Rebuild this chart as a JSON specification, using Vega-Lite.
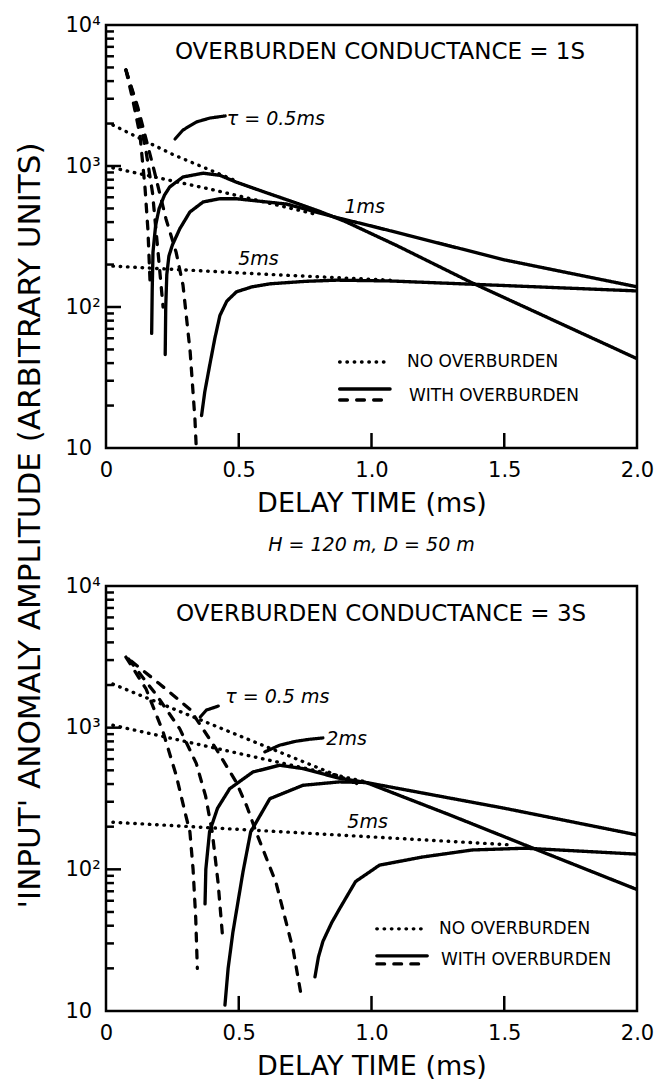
{
  "$schema": "https://vega.github.io/schema/vega-lite/v6.json",
  "background": "white",
  "autosize": {"type": "pad"},
  "padding": {"left": 12, "top": 12, "right": 10, "bottom": 5},
  "spacing": 138,
  "bounds": "flush",
  "config": {
    "view": {"stroke": "black", "strokeWidth": 2.5},
    "font": "DejaVu Sans",
    "axis": {"labelColor": "black", "titleColor": "black", "ticks": false, "domain": false, "grid": false}
  },
  "datasets": {
    "yticks": [
      {"value": 20, "tick": "minor"}, {"value": 30, "tick": "minor"}, {"value": 40, "tick": "minor"}, {"value": 50, "tick": "minor"},
      {"value": 60, "tick": "minor"}, {"value": 70, "tick": "minor"}, {"value": 80, "tick": "minor"}, {"value": 90, "tick": "minor"},
      {"value": 100, "tick": "major"},
      {"value": 200, "tick": "minor"}, {"value": 300, "tick": "minor"}, {"value": 400, "tick": "minor"}, {"value": 500, "tick": "minor"},
      {"value": 600, "tick": "minor"}, {"value": 700, "tick": "minor"}, {"value": 800, "tick": "minor"}, {"value": 900, "tick": "minor"},
      {"value": 1000, "tick": "major"},
      {"value": 2000, "tick": "minor"}, {"value": 3000, "tick": "minor"}, {"value": 4000, "tick": "minor"}, {"value": 5000, "tick": "minor"},
      {"value": 6000, "tick": "minor"}, {"value": 7000, "tick": "minor"}, {"value": 8000, "tick": "minor"}, {"value": 9000, "tick": "minor"}
    ],
    "xticks": [{"value": 0.5}, {"value": 1.0}, {"value": 1.5}],
    "curves_top": [
      {"series": "dot0.5", "kind": "no overburden", "t": 0.026, "amp": 1950},
      {"series": "dot0.5", "kind": "no overburden", "t": 0.25, "amp": 1210},
      {"series": "dot0.5", "kind": "no overburden", "t": 0.5, "amp": 770},
      {"series": "dot1", "kind": "no overburden", "t": 0.026, "amp": 970},
      {"series": "dot1", "kind": "no overburden", "t": 0.4, "amp": 680},
      {"series": "dot1", "kind": "no overburden", "t": 0.8, "amp": 450},
      {"series": "dot5", "kind": "no overburden", "t": 0.026, "amp": 195},
      {"series": "dot5", "kind": "no overburden", "t": 0.62, "amp": 170},
      {"series": "dot5", "kind": "no overburden", "t": 1.07, "amp": 155},
      {"series": "neg0.5", "kind": "with overburden (-)", "t": 0.075, "amp": 4800},
      {"series": "neg0.5", "kind": "with overburden (-)", "t": 0.1, "amp": 3000},
      {"series": "neg0.5", "kind": "with overburden (-)", "t": 0.128, "amp": 1660},
      {"series": "neg0.5", "kind": "with overburden (-)", "t": 0.147, "amp": 700},
      {"series": "neg0.5", "kind": "with overburden (-)", "t": 0.158, "amp": 350},
      {"series": "neg0.5", "kind": "with overburden (-)", "t": 0.166, "amp": 150},
      {"series": "neg1", "kind": "with overburden (-)", "t": 0.075, "amp": 4800},
      {"series": "neg1", "kind": "with overburden (-)", "t": 0.11, "amp": 2900},
      {"series": "neg1", "kind": "with overburden (-)", "t": 0.15, "amp": 1300},
      {"series": "neg1", "kind": "with overburden (-)", "t": 0.175, "amp": 650},
      {"series": "neg1", "kind": "with overburden (-)", "t": 0.196, "amp": 245},
      {"series": "neg1", "kind": "with overburden (-)", "t": 0.215, "amp": 100},
      {"series": "neg5", "kind": "with overburden (-)", "t": 0.075, "amp": 4800},
      {"series": "neg5", "kind": "with overburden (-)", "t": 0.12, "amp": 2600},
      {"series": "neg5", "kind": "with overburden (-)", "t": 0.18, "amp": 950},
      {"series": "neg5", "kind": "with overburden (-)", "t": 0.226, "amp": 421},
      {"series": "neg5", "kind": "with overburden (-)", "t": 0.264, "amp": 245},
      {"series": "neg5", "kind": "with overburden (-)", "t": 0.29, "amp": 143},
      {"series": "neg5", "kind": "with overburden (-)", "t": 0.317, "amp": 48},
      {"series": "neg5", "kind": "with overburden (-)", "t": 0.335, "amp": 16},
      {"series": "neg5", "kind": "with overburden (-)", "t": 0.34, "amp": 10},
      {"series": "pos0.5", "kind": "with overburden (+)", "t": 0.172, "amp": 65},
      {"series": "pos0.5", "kind": "with overburden (+)", "t": 0.174, "amp": 130},
      {"series": "pos0.5", "kind": "with overburden (+)", "t": 0.177, "amp": 245},
      {"series": "pos0.5", "kind": "with overburden (+)", "t": 0.187, "amp": 380},
      {"series": "pos0.5", "kind": "with overburden (+)", "t": 0.2, "amp": 498},
      {"series": "pos0.5", "kind": "with overburden (+)", "t": 0.22, "amp": 620},
      {"series": "pos0.5", "kind": "with overburden (+)", "t": 0.24, "amp": 710},
      {"series": "pos0.5", "kind": "with overburden (+)", "t": 0.29, "amp": 836},
      {"series": "pos0.5", "kind": "with overburden (+)", "t": 0.366, "amp": 889},
      {"series": "pos0.5", "kind": "with overburden (+)", "t": 0.429, "amp": 859},
      {"series": "pos0.5", "kind": "with overburden (+)", "t": 0.49, "amp": 769},
      {"series": "pos0.5", "kind": "with overburden (+)", "t": 0.6, "amp": 650},
      {"series": "pos0.5", "kind": "with overburden (+)", "t": 0.7, "amp": 560},
      {"series": "pos0.5", "kind": "with overburden (+)", "t": 0.8, "amp": 480},
      {"series": "pos0.5", "kind": "with overburden (+)", "t": 0.9, "amp": 405},
      {"series": "pos0.5", "kind": "with overburden (+)", "t": 1.1, "amp": 270},
      {"series": "pos0.5", "kind": "with overburden (+)", "t": 1.38, "amp": 148},
      {"series": "pos0.5", "kind": "with overburden (+)", "t": 2.0, "amp": 43},
      {"series": "pos1", "kind": "with overburden (+)", "t": 0.223, "amp": 46},
      {"series": "pos1", "kind": "with overburden (+)", "t": 0.225, "amp": 100},
      {"series": "pos1", "kind": "with overburden (+)", "t": 0.229, "amp": 170},
      {"series": "pos1", "kind": "with overburden (+)", "t": 0.237, "amp": 230},
      {"series": "pos1", "kind": "with overburden (+)", "t": 0.25, "amp": 275},
      {"series": "pos1", "kind": "with overburden (+)", "t": 0.278, "amp": 359},
      {"series": "pos1", "kind": "with overburden (+)", "t": 0.316, "amp": 472},
      {"series": "pos1", "kind": "with overburden (+)", "t": 0.366, "amp": 556},
      {"series": "pos1", "kind": "with overburden (+)", "t": 0.429, "amp": 586},
      {"series": "pos1", "kind": "with overburden (+)", "t": 0.49, "amp": 586},
      {"series": "pos1", "kind": "with overburden (+)", "t": 0.68, "amp": 537},
      {"series": "pos1", "kind": "with overburden (+)", "t": 0.87, "amp": 430},
      {"series": "pos1", "kind": "with overburden (+)", "t": 1.0, "amp": 375},
      {"series": "pos1", "kind": "with overburden (+)", "t": 1.5, "amp": 216},
      {"series": "pos1", "kind": "with overburden (+)", "t": 2.0, "amp": 139},
      {"series": "pos5", "kind": "with overburden (+)", "t": 0.36, "amp": 17},
      {"series": "pos5", "kind": "with overburden (+)", "t": 0.372, "amp": 25},
      {"series": "pos5", "kind": "with overburden (+)", "t": 0.391, "amp": 39},
      {"series": "pos5", "kind": "with overburden (+)", "t": 0.41, "amp": 60},
      {"series": "pos5", "kind": "with overburden (+)", "t": 0.429, "amp": 87},
      {"series": "pos5", "kind": "with overburden (+)", "t": 0.455, "amp": 110},
      {"series": "pos5", "kind": "with overburden (+)", "t": 0.491, "amp": 128},
      {"series": "pos5", "kind": "with overburden (+)", "t": 0.55, "amp": 139},
      {"series": "pos5", "kind": "with overburden (+)", "t": 0.617, "amp": 146},
      {"series": "pos5", "kind": "with overburden (+)", "t": 0.75, "amp": 152},
      {"series": "pos5", "kind": "with overburden (+)", "t": 0.869, "amp": 155},
      {"series": "pos5", "kind": "with overburden (+)", "t": 1.07, "amp": 153},
      {"series": "pos5", "kind": "with overburden (+)", "t": 1.5, "amp": 142},
      {"series": "pos5", "kind": "with overburden (+)", "t": 2.0, "amp": 130},
      {"series": "key_dot", "kind": "no overburden", "t": 0.88, "amp": 40.7},
      {"series": "key_dot", "kind": "no overburden", "t": 1.07, "amp": 40.7},
      {"series": "key_solid", "kind": "with overburden (+)", "t": 0.88, "amp": 26.2},
      {"series": "key_solid", "kind": "with overburden (+)", "t": 1.07, "amp": 26.2},
      {"series": "key_dash", "kind": "with overburden (-)", "t": 0.88, "amp": 21.9},
      {"series": "key_dash", "kind": "with overburden (-)", "t": 1.07, "amp": 21.9},
      {"series": "leader_tau", "kind": "leader", "t": 0.26, "amp": 1553},
      {"series": "leader_tau", "kind": "leader", "t": 0.29, "amp": 1799},
      {"series": "leader_tau", "kind": "leader", "t": 0.34, "amp": 2051},
      {"series": "leader_tau", "kind": "leader", "t": 0.392, "amp": 2189},
      {"series": "leader_tau", "kind": "leader", "t": 0.449, "amp": 2265}
    ],
    "curves_bottom": [
      {"series": "dot0.5", "kind": "no overburden", "t": 0.026, "amp": 2030},
      {"series": "dot0.5", "kind": "no overburden", "t": 0.5, "amp": 880},
      {"series": "dot0.5", "kind": "no overburden", "t": 0.95, "amp": 400},
      {"series": "dot1", "kind": "no overburden", "t": 0.026, "amp": 1040},
      {"series": "dot1", "kind": "no overburden", "t": 0.5, "amp": 658},
      {"series": "dot1", "kind": "no overburden", "t": 0.98, "amp": 414},
      {"series": "dot5", "kind": "no overburden", "t": 0.026, "amp": 215},
      {"series": "dot5", "kind": "no overburden", "t": 0.8, "amp": 178},
      {"series": "dot5", "kind": "no overburden", "t": 1.52, "amp": 149},
      {"series": "neg0.5", "kind": "with overburden (-)", "t": 0.075, "amp": 3150},
      {"series": "neg0.5", "kind": "with overburden (-)", "t": 0.151, "amp": 1875},
      {"series": "neg0.5", "kind": "with overburden (-)", "t": 0.215, "amp": 934},
      {"series": "neg0.5", "kind": "with overburden (-)", "t": 0.264, "amp": 464},
      {"series": "neg0.5", "kind": "with overburden (-)", "t": 0.3, "amp": 242},
      {"series": "neg0.5", "kind": "with overburden (-)", "t": 0.316, "amp": 184},
      {"series": "neg0.5", "kind": "with overburden (-)", "t": 0.328, "amp": 100},
      {"series": "neg0.5", "kind": "with overburden (-)", "t": 0.338, "amp": 45},
      {"series": "neg0.5", "kind": "with overburden (-)", "t": 0.344, "amp": 20},
      {"series": "neg1", "kind": "with overburden (-)", "t": 0.085, "amp": 3050},
      {"series": "neg1", "kind": "with overburden (-)", "t": 0.19, "amp": 1700},
      {"series": "neg1", "kind": "with overburden (-)", "t": 0.278, "amp": 980},
      {"series": "neg1", "kind": "with overburden (-)", "t": 0.34, "amp": 560},
      {"series": "neg1", "kind": "with overburden (-)", "t": 0.375, "amp": 330},
      {"series": "neg1", "kind": "with overburden (-)", "t": 0.4, "amp": 184},
      {"series": "neg1", "kind": "with overburden (-)", "t": 0.422, "amp": 81},
      {"series": "neg1", "kind": "with overburden (-)", "t": 0.44, "amp": 32},
      {"series": "neg5", "kind": "with overburden (-)", "t": 0.095, "amp": 2950},
      {"series": "neg5", "kind": "with overburden (-)", "t": 0.2, "amp": 2050},
      {"series": "neg5", "kind": "with overburden (-)", "t": 0.316, "amp": 1350},
      {"series": "neg5", "kind": "with overburden (-)", "t": 0.415, "amp": 707},
      {"series": "neg5", "kind": "with overburden (-)", "t": 0.49, "amp": 414},
      {"series": "neg5", "kind": "with overburden (-)", "t": 0.53, "amp": 280},
      {"series": "neg5", "kind": "with overburden (-)", "t": 0.565, "amp": 184},
      {"series": "neg5", "kind": "with overburden (-)", "t": 0.64, "amp": 81},
      {"series": "neg5", "kind": "with overburden (-)", "t": 0.705, "amp": 27},
      {"series": "neg5", "kind": "with overburden (-)", "t": 0.736, "amp": 12.6},
      {"series": "pos0.5", "kind": "with overburden (+)", "t": 0.373, "amp": 57},
      {"series": "pos0.5", "kind": "with overburden (+)", "t": 0.376, "amp": 100},
      {"series": "pos0.5", "kind": "with overburden (+)", "t": 0.39, "amp": 184},
      {"series": "pos0.5", "kind": "with overburden (+)", "t": 0.42, "amp": 270},
      {"series": "pos0.5", "kind": "with overburden (+)", "t": 0.466, "amp": 371},
      {"series": "pos0.5", "kind": "with overburden (+)", "t": 0.553, "amp": 486},
      {"series": "pos0.5", "kind": "with overburden (+)", "t": 0.654, "amp": 543},
      {"series": "pos0.5", "kind": "with overburden (+)", "t": 0.742, "amp": 514},
      {"series": "pos0.5", "kind": "with overburden (+)", "t": 0.878, "amp": 440},
      {"series": "pos0.5", "kind": "with overburden (+)", "t": 0.98, "amp": 410},
      {"series": "pos0.5", "kind": "with overburden (+)", "t": 1.3, "amp": 240},
      {"series": "pos0.5", "kind": "with overburden (+)", "t": 1.6, "amp": 143},
      {"series": "pos0.5", "kind": "with overburden (+)", "t": 2.0, "amp": 72},
      {"series": "pos1", "kind": "with overburden (+)", "t": 0.448, "amp": 11},
      {"series": "pos1", "kind": "with overburden (+)", "t": 0.46, "amp": 20},
      {"series": "pos1", "kind": "with overburden (+)", "t": 0.478, "amp": 36},
      {"series": "pos1", "kind": "with overburden (+)", "t": 0.516, "amp": 96},
      {"series": "pos1", "kind": "with overburden (+)", "t": 0.545, "amp": 184},
      {"series": "pos1", "kind": "with overburden (+)", "t": 0.617, "amp": 315},
      {"series": "pos1", "kind": "with overburden (+)", "t": 0.742, "amp": 392},
      {"series": "pos1", "kind": "with overburden (+)", "t": 0.878, "amp": 414},
      {"series": "pos1", "kind": "with overburden (+)", "t": 0.98, "amp": 410},
      {"series": "pos1", "kind": "with overburden (+)", "t": 1.5, "amp": 270},
      {"series": "pos1", "kind": "with overburden (+)", "t": 2.0, "amp": 175},
      {"series": "pos5", "kind": "with overburden (+)", "t": 0.787, "amp": 17.4},
      {"series": "pos5", "kind": "with overburden (+)", "t": 0.8, "amp": 24},
      {"series": "pos5", "kind": "with overburden (+)", "t": 0.817, "amp": 31},
      {"series": "pos5", "kind": "with overburden (+)", "t": 0.85, "amp": 42},
      {"series": "pos5", "kind": "with overburden (+)", "t": 0.878, "amp": 52},
      {"series": "pos5", "kind": "with overburden (+)", "t": 0.94, "amp": 82},
      {"series": "pos5", "kind": "with overburden (+)", "t": 1.03, "amp": 107},
      {"series": "pos5", "kind": "with overburden (+)", "t": 1.19, "amp": 122},
      {"series": "pos5", "kind": "with overburden (+)", "t": 1.38, "amp": 137},
      {"series": "pos5", "kind": "with overburden (+)", "t": 1.58, "amp": 141},
      {"series": "pos5", "kind": "with overburden (+)", "t": 2.0, "amp": 128},
      {"series": "key_dot", "kind": "no overburden", "t": 1.02, "amp": 38},
      {"series": "key_dot", "kind": "no overburden", "t": 1.21, "amp": 38},
      {"series": "key_solid", "kind": "with overburden (+)", "t": 1.02, "amp": 24.5},
      {"series": "key_solid", "kind": "with overburden (+)", "t": 1.21, "amp": 24.5},
      {"series": "key_dash", "kind": "with overburden (-)", "t": 1.02, "amp": 21.5},
      {"series": "key_dash", "kind": "with overburden (-)", "t": 1.21, "amp": 21.5},
      {"series": "leader_tau", "kind": "leader", "t": 0.355, "amp": 1190},
      {"series": "leader_tau", "kind": "leader", "t": 0.378, "amp": 1330},
      {"series": "leader_tau", "kind": "leader", "t": 0.423, "amp": 1420},
      {"series": "leader_2", "kind": "leader", "t": 0.598, "amp": 674},
      {"series": "leader_2", "kind": "leader", "t": 0.654, "amp": 752},
      {"series": "leader_2", "kind": "leader", "t": 0.716, "amp": 802},
      {"series": "leader_2", "kind": "leader", "t": 0.767, "amp": 828},
      {"series": "leader_2", "kind": "leader", "t": 0.817, "amp": 846}
    ],
    "texts_top": [
      {"role": "panel title", "t": 1.032, "amp": 6440, "label": "OVERBURDEN CONDUCTANCE = 1S"},
      {"role": "legend", "t": 1.134, "amp": 40.7, "label": "NO OVERBURDEN"},
      {"role": "legend", "t": 1.141, "amp": 23.4, "label": "WITH OVERBURDEN"},
      {"role": "annotation", "t": 0.455, "amp": 2154, "label": "τ = 0.5ms"},
      {"role": "annotation", "t": 0.898, "amp": 512, "label": "1ms"},
      {"role": "annotation", "t": 0.498, "amp": 219, "label": "5ms"}
    ],
    "texts_bottom": [
      {"role": "panel title", "t": 1.036, "amp": 6340, "label": "OVERBURDEN CONDUCTANCE = 3S"},
      {"role": "legend", "t": 1.254, "amp": 38, "label": "NO OVERBURDEN"},
      {"role": "legend", "t": 1.262, "amp": 22.9, "label": "WITH OVERBURDEN"},
      {"role": "annotation", "t": 0.449, "amp": 1648, "label": "τ = 0.5 ms"},
      {"role": "annotation", "t": 0.83, "amp": 832, "label": "2ms"},
      {"role": "annotation", "t": 0.909, "amp": 216, "label": "5ms"}
    ]
  },
  "vconcat": [
    {
      "width": 531,
      "height": 423,
      "layer": [
        {
          "data": {"name": "curves_top"},
          "mark": {"type": "line", "clip": true, "strokeCap": "round", "strokeJoin": "round"},
          "encoding": {
            "x": {"field": "t", "type": "quantitative", "scale": {"domain": [0, 2], "nice": false, "zero": false},
              "axis": {"values": [0, 0.5, 1, 1.5, 2], "ticks": false, "labelPadding": 11, "labelFontSize": 21, "labelFlush": false, "labelOverlap": false,
                "labelExpr": "datum.value == 0 ? '0' : format(datum.value, '.1f')",
                "title": "DELAY TIME (ms)", "titleFontSize": 27, "titleFontWeight": "normal", "titlePadding": 10}},
            "y": {"field": "amp", "type": "quantitative", "scale": {"type": "log", "domain": [10, 10000], "nice": false},
              "axis": {"orient": "left", "values": [10, 100, 1000, 10000], "ticks": false, "labelPadding": 41, "labelAlign": "left", "labelBaseline": "middle", "labelFontSize": 21, "labelOverlap": false,
                "labelExpr": "datum.value == 10 ? '10' : datum.value == 100 ? '10²' : datum.value == 1000 ? '10³' : '10⁴'",
                "title": "'INPUT' ANOMALY AMPLITUDE (ARBITRARY UNITS)", "titleFontSize": 31, "titleFontWeight": "normal", "titleAngle": 270, "titleX": -76, "titleY": 500, "titleAlign": "center", "titleBaseline": "middle"}},
            "detail": {"field": "series"},
            "color": {"value": "black"},
            "strokeDash": {"field": "kind", "type": "nominal", "legend": null,
              "scale": {"domain": ["no overburden", "with overburden (+)", "with overburden (-)", "leader"], "range": [[0.5, 6.8], [1, 0], [7.8, 9.2], [1, 0]]}},
            "strokeWidth": {"field": "kind", "type": "nominal", "legend": null,
              "scale": {"domain": ["no overburden", "with overburden (+)", "with overburden (-)", "leader"], "range": [3.4, 3.2, 3.2, 1.6]}}
          }
        },
        {
          "data": {"name": "texts_top"},
          "transform": [{"filter": "datum.role == 'panel title'"}],
          "mark": {"type": "text", "align": "center", "baseline": "middle", "fontSize": 23, "color": "black"},
          "encoding": {
            "x": {"field": "t", "type": "quantitative"},
            "y": {"field": "amp", "type": "quantitative"},
            "text": {"field": "label"}
          }
        },
        {
          "data": {"name": "texts_top"},
          "transform": [{"filter": "datum.role == 'legend'"}],
          "mark": {"type": "text", "align": "left", "baseline": "middle", "fontSize": 17, "color": "black"},
          "encoding": {
            "x": {"field": "t", "type": "quantitative"},
            "y": {"field": "amp", "type": "quantitative"},
            "text": {"field": "label"}
          }
        },
        {
          "data": {"name": "texts_top"},
          "transform": [{"filter": "datum.role == 'annotation'"}],
          "mark": {"type": "text", "align": "left", "baseline": "middle", "fontSize": 19, "fontStyle": "italic", "color": "black"},
          "encoding": {
            "x": {"field": "t", "type": "quantitative"},
            "y": {"field": "amp", "type": "quantitative"},
            "text": {"field": "label"}
          }
        },
        {
          "data": {"name": "yticks"},
          "transform": [{"filter": "datum.tick == 'major'"}],
          "mark": {"type": "rule", "color": "black", "strokeWidth": 2.5},
          "encoding": {
            "y": {"field": "value", "type": "quantitative"},
            "x": {"datum": 0},
            "x2": {"datum": 0.0565}
          }
        },
        {
          "data": {"name": "yticks"},
          "transform": [{"filter": "datum.tick == 'minor'"}],
          "mark": {"type": "rule", "color": "black", "strokeWidth": 2.5},
          "encoding": {
            "y": {"field": "value", "type": "quantitative"},
            "x": {"datum": 0},
            "x2": {"datum": 0.03}
          }
        },
        {
          "data": {"name": "xticks"},
          "mark": {"type": "rule", "color": "black", "strokeWidth": 2.5},
          "encoding": {
            "x": {"field": "value", "type": "quantitative"},
            "y": {"datum": 10},
            "y2": {"datum": 12.77}
          }
        }
      ]
    },
    {
      "width": 531,
      "height": 425,
      "title": {"text": "H = 120 m, D = 50 m", "fontStyle": "italic", "fontSize": 19, "fontWeight": "normal", "offset": 20, "frame": "group", "anchor": "middle", "color": "black"},
      "layer": [
        {
          "data": {"name": "curves_bottom"},
          "mark": {"type": "line", "clip": true, "strokeCap": "round", "strokeJoin": "round"},
          "encoding": {
            "x": {"field": "t", "type": "quantitative", "scale": {"domain": [0, 2], "nice": false, "zero": false},
              "axis": {"values": [0, 0.5, 1, 1.5, 2], "ticks": false, "labelPadding": 11, "labelFontSize": 21, "labelFlush": false, "labelOverlap": false,
                "labelExpr": "datum.value == 0 ? '0' : format(datum.value, '.1f')",
                "title": "DELAY TIME (ms)", "titleFontSize": 27, "titleFontWeight": "normal", "titlePadding": 10}},
            "y": {"field": "amp", "type": "quantitative", "scale": {"type": "log", "domain": [10, 10000], "nice": false},
              "axis": {"orient": "left", "values": [10, 100, 1000, 10000], "ticks": false, "labelPadding": 41, "labelAlign": "left", "labelBaseline": "middle", "labelFontSize": 21, "labelOverlap": false,
                "labelExpr": "datum.value == 10 ? '10' : datum.value == 100 ? '10²' : datum.value == 1000 ? '10³' : '10⁴'",
                "title": null}},
            "detail": {"field": "series"},
            "color": {"value": "black"},
            "strokeDash": {"field": "kind", "type": "nominal", "legend": null,
              "scale": {"domain": ["no overburden", "with overburden (+)", "with overburden (-)", "leader"], "range": [[0.5, 6.8], [1, 0], [7.8, 9.2], [1, 0]]}},
            "strokeWidth": {"field": "kind", "type": "nominal", "legend": null,
              "scale": {"domain": ["no overburden", "with overburden (+)", "with overburden (-)", "leader"], "range": [3.4, 3.2, 3.2, 1.6]}}
          }
        },
        {
          "data": {"name": "texts_bottom"},
          "transform": [{"filter": "datum.role == 'panel title'"}],
          "mark": {"type": "text", "align": "center", "baseline": "middle", "fontSize": 23, "color": "black"},
          "encoding": {
            "x": {"field": "t", "type": "quantitative"},
            "y": {"field": "amp", "type": "quantitative"},
            "text": {"field": "label"}
          }
        },
        {
          "data": {"name": "texts_bottom"},
          "transform": [{"filter": "datum.role == 'legend'"}],
          "mark": {"type": "text", "align": "left", "baseline": "middle", "fontSize": 17, "color": "black"},
          "encoding": {
            "x": {"field": "t", "type": "quantitative"},
            "y": {"field": "amp", "type": "quantitative"},
            "text": {"field": "label"}
          }
        },
        {
          "data": {"name": "texts_bottom"},
          "transform": [{"filter": "datum.role == 'annotation'"}],
          "mark": {"type": "text", "align": "left", "baseline": "middle", "fontSize": 19, "fontStyle": "italic", "color": "black"},
          "encoding": {
            "x": {"field": "t", "type": "quantitative"},
            "y": {"field": "amp", "type": "quantitative"},
            "text": {"field": "label"}
          }
        },
        {
          "data": {"name": "yticks"},
          "transform": [{"filter": "datum.tick == 'major'"}],
          "mark": {"type": "rule", "color": "black", "strokeWidth": 2.5},
          "encoding": {
            "y": {"field": "value", "type": "quantitative"},
            "x": {"datum": 0},
            "x2": {"datum": 0.0565}
          }
        },
        {
          "data": {"name": "yticks"},
          "transform": [{"filter": "datum.tick == 'minor'"}],
          "mark": {"type": "rule", "color": "black", "strokeWidth": 2.5},
          "encoding": {
            "y": {"field": "value", "type": "quantitative"},
            "x": {"datum": 0},
            "x2": {"datum": 0.03}
          }
        },
        {
          "data": {"name": "xticks"},
          "mark": {"type": "rule", "color": "black", "strokeWidth": 2.5},
          "encoding": {
            "x": {"field": "value", "type": "quantitative"},
            "y": {"datum": 10},
            "y2": {"datum": 12.77}
          }
        }
      ]
    }
  ]
}
